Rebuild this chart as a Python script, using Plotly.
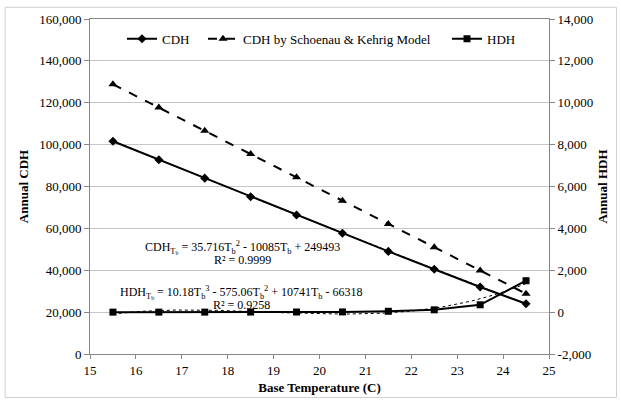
import numpy as np
import plotly.graph_objects as go

# Base temperatures (C)
base_temp = [15.5, 16.5, 17.5, 18.5, 19.5, 20.5, 21.5, 22.5, 23.5, 24.5]

# Annual cooling degree hours
cdh = [101600, 92800, 84000, 75100, 66400, 57700, 49000, 40500, 32000, 24000]
# Annual CDH predicted by the Schoenau & Kehrig model
cdh_sk = [128800, 117700, 106600, 95500, 84400, 73200, 62100, 51000, 39900, 28800]
# Annual heating degree hours
hdh = [0, 0, 0, 2, 5, 10, 40, 110, 350, 1500]

# Trendline coefficients (highest power first)
cdh_coef = [35.716, -10085, 249493]
hdh_coef = [10.18, -575.06, 10741, -66318]

# Right-axis ticks (HDH)
hdh_ticks = [-2000, 0, 2000, 4000, 6000, 8000, 10000, 12000, 14000]
hdh_tick_labels = ["-2,000", "0", "2,000", "4,000", "6,000", "8,000",
                   "10,000", "12,000", "14,000"]

FONT = "Liberation Serif, Times New Roman, serif"
GRID = "#c6c6c6"
AXIS = "#868686"

t_fit = np.linspace(base_temp[0], base_temp[-1], 200)

fig = go.Figure()

fig.add_trace(go.Scatter(
    x=t_fit, y=np.polyval(cdh_coef, t_fit), mode="lines",
    line=dict(color="black", width=1, dash="dot"), showlegend=False,
    hoverinfo="skip"))
fig.add_trace(go.Scatter(
    x=base_temp, y=cdh, mode="lines+markers", name="CDH", legend="legend",
    line=dict(color="black", width=2),
    marker=dict(symbol="diamond", size=7, color="black")))
fig.add_trace(go.Scatter(
    x=base_temp, y=cdh_sk, mode="lines+markers", legend="legend2",
    name="CDH by Schoenau & Kehrig Model",
    line=dict(color="black", width=2, dash="dash"),
    marker=dict(symbol="triangle-up", size=8, color="black")))
fig.add_trace(go.Scatter(
    x=t_fit, y=np.polyval(hdh_coef, t_fit), mode="lines", yaxis="y2",
    line=dict(color="black", width=1, dash="dot"), showlegend=False,
    hoverinfo="skip"))
fig.add_trace(go.Scatter(
    x=base_temp, y=hdh, mode="lines+markers", name="HDH", yaxis="y2",
    legend="legend3",
    line=dict(color="black", width=2),
    marker=dict(symbol="square", size=7, color="black")))

eq_font = dict(family=FONT, size=12, color="black")
fig.add_annotation(
    x=18.33, y=50900, xref="x", yref="y", showarrow=False, font=eq_font,
    text="CDH<sub>T<sub>b</sub></sub> = 35.716T<sub>b</sub><sup>2</sup> - 10085T<sub>b</sub> + 249493")
fig.add_annotation(
    x=18.33, y=45000, xref="x", yref="y", showarrow=False, font=eq_font,
    text="R² = 0.9999")
fig.add_annotation(
    x=18.3, y=29200, xref="x", yref="y", showarrow=False, font=eq_font,
    text="HDH<sub>T<sub>b</sub></sub> = 10.18T<sub>b</sub><sup>3</sup> - 575.06T<sub>b</sub><sup>2</sup> + 10741T<sub>b</sub> - 66318")
fig.add_annotation(
    x=18.3, y=23600, xref="x", yref="y", showarrow=False, font=eq_font,
    text="R² = 0.9258")

# outer chart border
fig.add_shape(type="rect", xref="paper", yref="paper",
              x0=-0.185, x1=1.147, y0=-0.13, y1=1.035,
              line=dict(color="#d0d0d0", width=1))

leg_common = dict(orientation="h", y=0.941, xanchor="left", yanchor="middle",
                  bgcolor="rgba(0,0,0,0)", font=dict(family=FONT, size=13))

title_font = dict(family=FONT, size=13, color="black")

fig.update_layout(
    width=621, height=405,
    margin=dict(l=90, r=72, t=18, b=47),
    paper_bgcolor="white", plot_bgcolor="white",
    font=dict(family=FONT, size=13, color="black"),
    showlegend=True,
    legend=dict(x=0.0697, **leg_common),
    legend2=dict(x=0.2462, **leg_common),
    legend3=dict(x=0.7778, **leg_common),
    xaxis=dict(range=[15, 25], dtick=1, tick0=15, showgrid=False,
               showline=True, linecolor=AXIS, linewidth=1, mirror=True,
               ticks="outside", ticklen=4, tickcolor=AXIS,
               title=dict(text="<b>Base Temperature (C)</b>", standoff=6,
                          font=title_font),
               zeroline=False),
    yaxis=dict(range=[0, 160000], dtick=20000, tickformat=",",
               showgrid=True, gridcolor=GRID, gridwidth=1,
               showline=True, linecolor=AXIS, linewidth=1,
               ticks="outside", ticklen=5, tickcolor=AXIS,
               title=dict(text="<b>Annual CDH</b>", standoff=7,
                          font=title_font),
               zeroline=False),
    yaxis2=dict(range=[-2000, 14000], tickmode="array", tickvals=hdh_ticks,
                ticktext=hdh_tick_labels,
                overlaying="y", side="right", showgrid=False,
                showline=True, linecolor=AXIS, linewidth=1,
                ticks="outside", ticklen=5, tickcolor=AXIS,
                title=dict(text="<b>Annual HDH</b>", standoff=5,
                           font=title_font),
                zeroline=False),
)

fig.write_html("out.html")
